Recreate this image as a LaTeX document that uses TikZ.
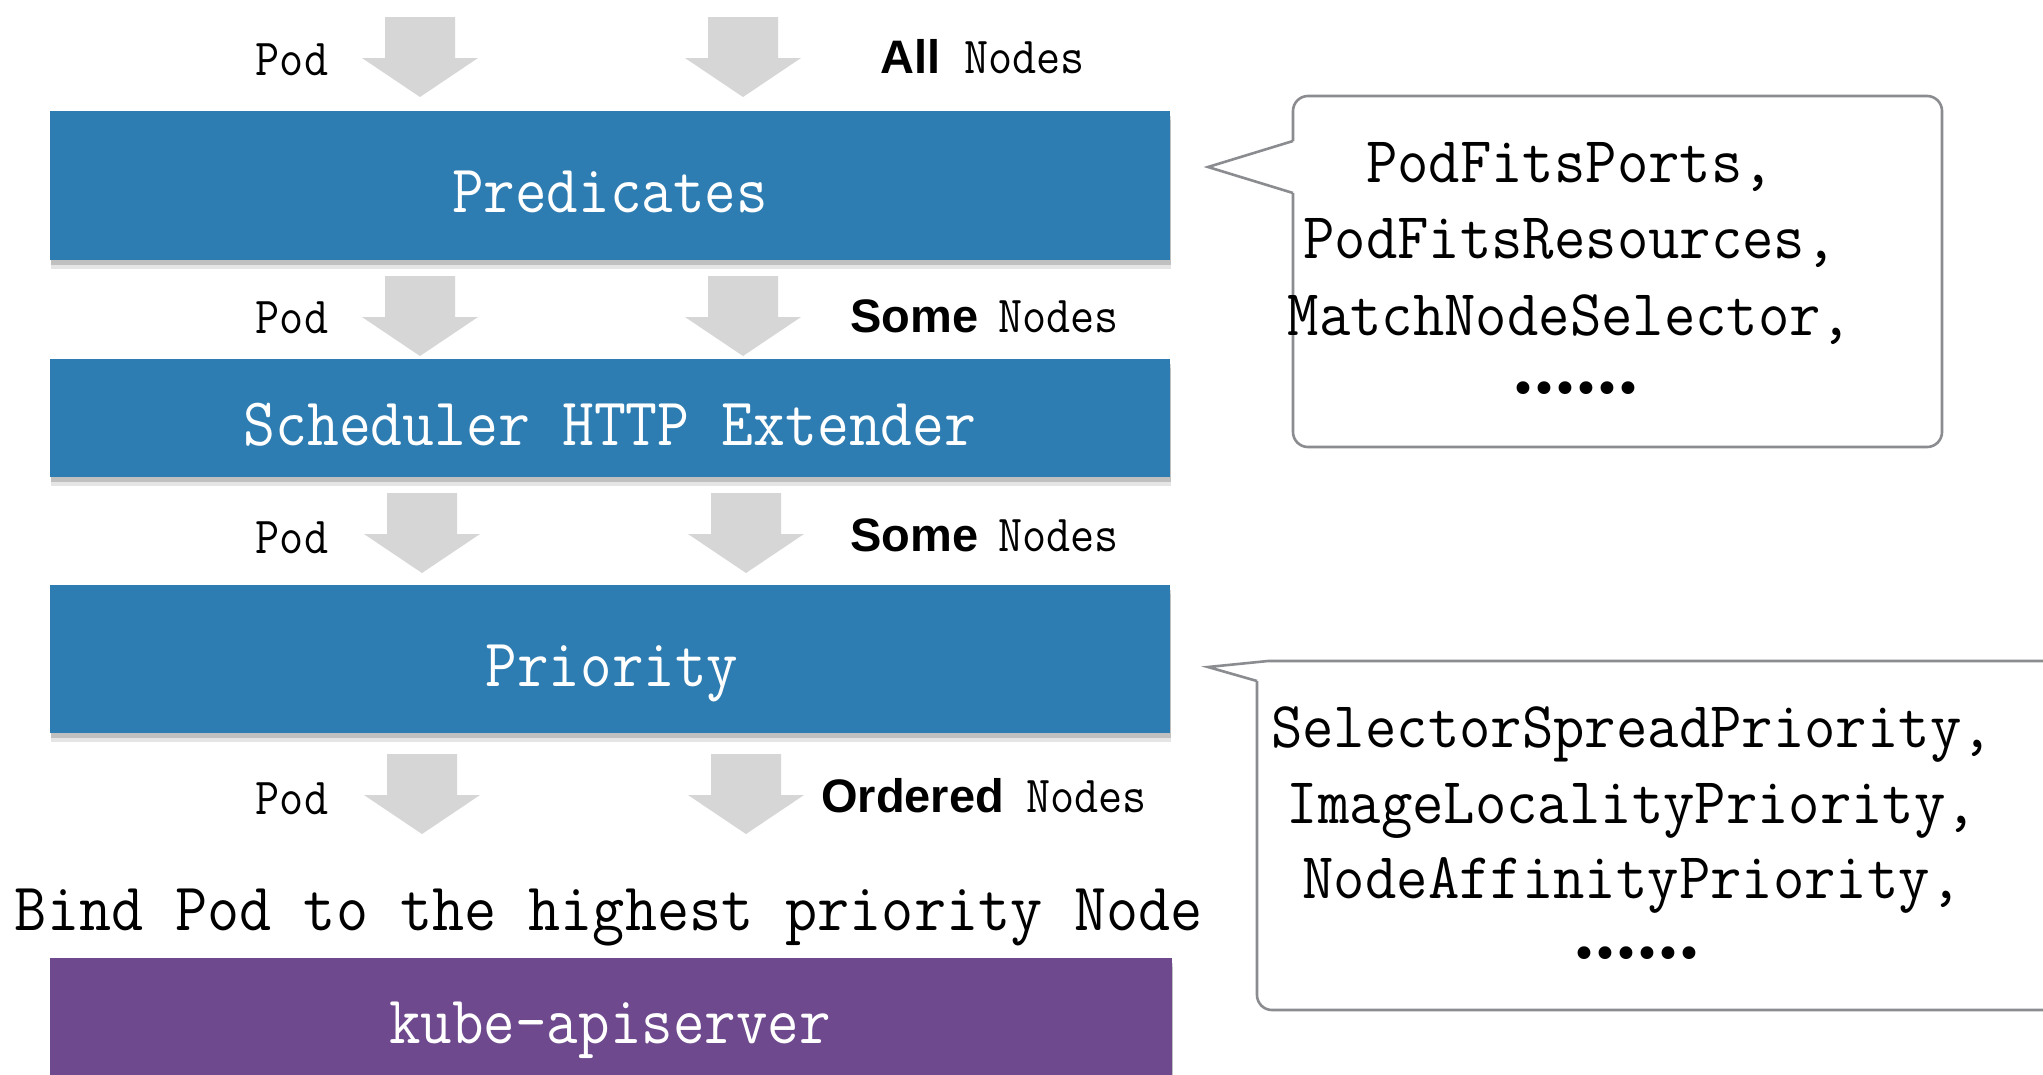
\documentclass[tikz,border=0pt]{standalone}
\usepackage{fontspec}
\usepackage{graphicx}
\usetikzlibrary{shadows}
\newfontfamily\hvfont{Liberation Sans}
\newfontfamily\djvfont{DejaVu Sans}
\definecolor{boxblue}{RGB}{46,125,178}
\definecolor{boxpurple}{RGB}{110,73,141}
\definecolor{arrowgray}{RGB}{214,214,214}
\definecolor{calloutgray}{RGB}{138,140,143}
\newcommand{\sqm}[1]{\scalebox{0.9}[1]{#1}}
\newcommand{\sqb}[1]{\scalebox{0.91}[1]{#1}}
\newcommand{\sqc}[1]{\scalebox{0.93}[1]{#1}}
\newcommand{\bsans}[1]{{\hvfont\bfseries\fontsize{47}{55}\selectfont #1}}
\newcommand{\dotrow}{•\kern-5pt•\kern-5pt•\kern-5pt•\kern-5pt•\kern-5pt•}
\tikzset{
  stage/.style={rectangle, inner sep=0pt, outer sep=0pt, minimum width=1120pt,
    drop shadow={shadow xshift=1pt, shadow yshift=-9pt, fill=black, opacity=0.10},
    drop shadow={shadow xshift=1pt, shadow yshift=-5pt, fill=black, opacity=0.16}},
  bigtxt/.style={font=\fontsize{68}{80}\selectfont\ttfamily, inner sep=0pt, anchor=base},
  lbl/.style={font=\fontsize{52}{60}\selectfont\ttfamily, inner sep=0pt},
  calltxt/.style={font=\fontsize{65.5}{75}\selectfont\ttfamily, inner sep=0pt, anchor=base},
  dotstxt/.style={font=\fontsize{44}{50}\selectfont\djvfont, inner sep=0pt},
  callout/.style={draw=calloutgray, line width=2.6pt},
  barrow/.pic={\fill[arrowgray] (-35,0) -- (35,0) -- (35,41) -- (58,41) -- (0,80) -- (-58,41) -- (-35,41) -- cycle;}
}
\begin{document}
\begin{tikzpicture}[x=1pt,y=-1pt]
\useasboundingbox (0,0) rectangle (2043,1074);
\fill[white] (0,0) rectangle (2043,1074);

% stage boxes
\node[stage, fill=boxblue, minimum height=149pt] (pred) at (610,185.5) {};
\node[stage, fill=boxblue, minimum height=118pt] (ext) at (610,418) {};
\node[stage, fill=boxblue, minimum height=148pt] (prio) at (610,659) {};
\node[stage, fill=boxpurple, minimum width=1122pt, minimum height=140pt] (api) at (611,1028) {};

\node[bigtxt, text=white] (predt) at (610,212) {\sqm{Predicates}};
\node[bigtxt, text=white] (extt) at (610,445) {\sqb{Scheduler HTTP Extender}};
\node[bigtxt, text=white] (priot) at (612,686) {\sqm{Priority}};
\node[bigtxt, text=white] (apit) at (610,1043) {\sqm{kube-apiserver}};
\node[bigtxt] (bind) at (609,930) {\scalebox{0.917}[1]{Bind Pod to the highest priority Node}};

% block arrows
\pic at (420,17) {barrow};
\pic at (743,17) {barrow};
\pic at (420,276) {barrow};
\pic at (743,276) {barrow};
\pic at (422,493) {barrow};
\pic at (746,493) {barrow};
\pic at (422,754) {barrow};
\pic at (746,754) {barrow};

% flow labels
\node[lbl, anchor=base] (pod1) at (292,75) {\sqm{Pod}};
\node[lbl, anchor=base] (pod2) at (292,333) {\sqm{Pod}};
\node[lbl, anchor=base] (pod3) at (292,553) {\sqm{Pod}};
\node[lbl, anchor=base] (pod4) at (292,814) {\sqm{Pod}};
\node[lbl, anchor=base west] (nodes1) at (880,73) {\bsans{All}\hspace{24pt}\sqm{Nodes}};
\node[lbl, anchor=base west] (nodes2) at (850,332) {\bsans{Some}\hspace{20pt}\sqm{Nodes}};
\node[lbl, anchor=base west] (nodes3) at (850,551) {\bsans{Some}\hspace{20pt}\sqm{Nodes}};
\node[lbl, anchor=base west] (nodes4) at (821,812) {\bsans{Ordered}\hspace{22pt}\sqm{Nodes}};

% callout 1
\draw[callout, rounded corners=15pt] (1293,141) -- (1293,96) -- (1942,96) -- (1942,447) -- (1293,447) -- (1293,193);
\draw[callout, line join=miter] (1293,141) -- (1208,167) -- (1293,193);
\node[calltxt] (c1a) at (1570,182) {\sqc{PodFitsPorts,}};
\node[calltxt] (c1b) at (1570,258) {\sqc{PodFitsResources,}};
\node[calltxt] (c1c) at (1570,335) {\sqc{MatchNodeSelector,}};
\node[dotstxt] (c1d) at (1576,393) {\dotrow};

% callout 2
\draw[callout, line join=miter] (2080,661) -- (1268,661) -- (1208,667) -- (1257,681);
\draw[callout, rounded corners=15pt] (1257,681) -- (1257,1010) -- (2080,1010);
\node[calltxt] (c2a) at (1632,747) {\sqc{SelectorSpreadPriority,}};
\node[calltxt] (c2b) at (1632,823) {\sqc{ImageLocalityPriority,}};
\node[calltxt] (c2c) at (1632,898) {\sqc{NodeAffinityPriority,}};
\node[dotstxt] (c2d) at (1637,958) {\dotrow};
\end{tikzpicture}
\end{document}
